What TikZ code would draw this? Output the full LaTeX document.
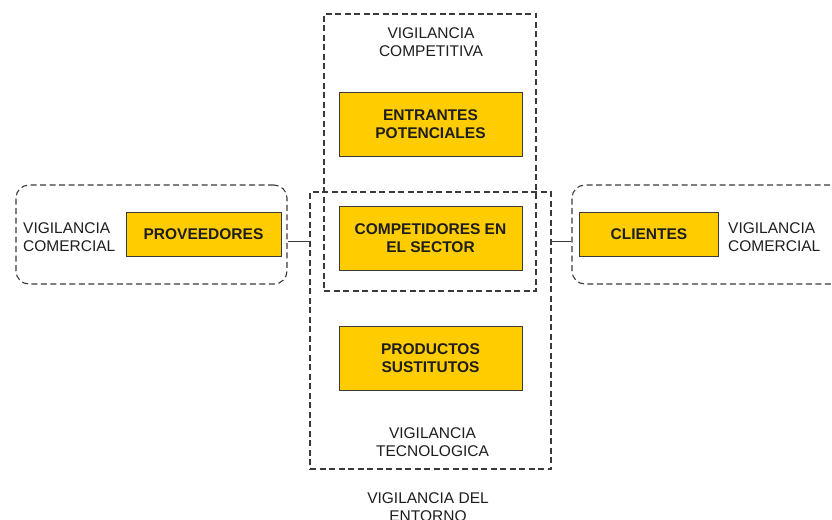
\documentclass[tikz,border=0pt]{standalone}
\usepackage{fontspec}
\setmainfont{Liberation Sans}
\definecolor{gold}{HTML}{FFCC00}
\definecolor{edge}{HTML}{3A3A3A}
\definecolor{ink}{HTML}{1E1E1E}
\tikzset{
  zone/.style={draw=edge, line width=1.1pt, dash pattern=on 6pt off 3.5pt},
  roundzone/.style={zone, rounded corners=13pt},
  force/.style={draw=edge, line width=0.8pt, fill=gold, font=\fontsize{15.5}{18}\selectfont\bfseries, text=ink, align=center, inner sep=0pt},
  label/.style={font=\fontsize{15.5}{18}\selectfont, text=ink, inner sep=0pt},
  link/.style={draw=edge, line width=1pt}
}
\begin{document}
\begin{tikzpicture}[x=1pt,y=-1pt]
\useasboundingbox (0,0) rectangle (832,519);
\clip (0,0) rectangle (832,519);
% zones
\node[zone, minimum width=212pt, minimum height=277pt, inner sep=0pt] (comp) at (430,152.5) {};
\node[zone, minimum width=241pt, minimum height=277pt, inner sep=0pt] (tech) at (430.5,330.5) {};
\node[roundzone, minimum width=271pt, minimum height=99pt, inner sep=0pt] (left) at (151.5,234.5) {};
\node[roundzone, minimum width=290pt, minimum height=99pt, inner sep=0pt] (right) at (717,234.5) {};
% forces
\node[force, minimum width=183pt, minimum height=64pt] (ent) at (430.5,124) {ENTRANTES\\POTENCIALES};
\node[force, minimum width=183pt, minimum height=64pt] (cps) at (430.5,238) {COMPETIDORES EN\\EL SECTOR};
\node[force, minimum width=183pt, minimum height=64pt] (sus) at (430.5,358) {PRODUCTOS\\SUSTITUTOS};
\node[force, minimum width=155pt, minimum height=44pt] (prov) at (203.5,234) {PROVEEDORES};
\node[force, minimum width=139pt, minimum height=44pt] (cli) at (649,234) {CLIENTES};
% labels
\node[label, align=center] (lcomp) at (431,42) {VIGILANCIA\\COMPETITIVA};
\node[label, align=center] (ltech) at (432.5,442) {VIGILANCIA\\TECNOLOGICA};
\node[label, align=center] (lent) at (428,507.5) {VIGILANCIA DEL\\ENTORNO};
\node[label, align=left, anchor=west] (lleft) at (23,237) {VIGILANCIA\\COMERCIAL};
\node[label, align=left, anchor=west] (lright) at (728,237) {VIGILANCIA\\COMERCIAL};
% connectors
\coordinate (lc) at (left.east |- 0,241);
\coordinate (tl) at (tech.west |- 0,241);
\coordinate (tr) at (tech.east |- 0,241);
\coordinate (rc) at (right.west |- 0,241);
\draw[link] (lc) -- (tl);
\draw[link] (tr) -- (rc);
\end{tikzpicture}
\end{document}
